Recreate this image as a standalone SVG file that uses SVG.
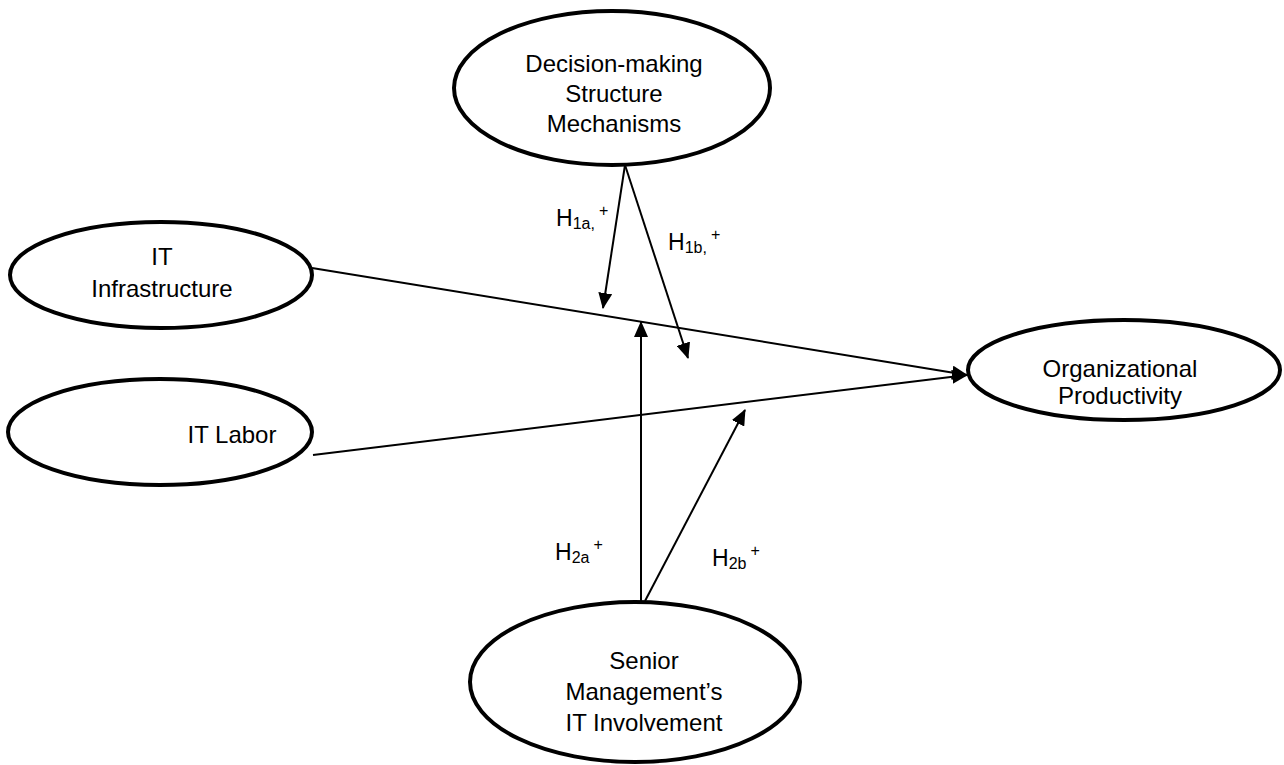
<svg xmlns="http://www.w3.org/2000/svg" width="1284" height="765" viewBox="0 0 1284 765">
<defs>
<style>
.node ellipse{fill:#fff;stroke:#000;stroke-width:4}
text{font-family:"Liberation Sans",Arial,sans-serif;font-size:24px;fill:#000}
.c{text-anchor:middle}
.conn line{stroke:#000;stroke-width:2}
.lbl{font-size:23px}
.s{font-size:16px}
</style>
<marker id="ah" markerWidth="16" markerHeight="14" refX="15" refY="7" orient="auto" markerUnits="userSpaceOnUse">
<path d="M0,0 L16,7 L0,14 z" fill="#000"/>
</marker>
</defs>
<rect width="1284" height="765" fill="#fff"/>
<g class="conn" id="connectors">
<line x1="312" y1="268" x2="967" y2="375" marker-end="url(#ah)"/>
<line x1="313" y1="455" x2="967" y2="375" marker-end="url(#ah)"/>
<line x1="625" y1="165" x2="603" y2="308" marker-end="url(#ah)"/>
<line x1="625" y1="165" x2="688" y2="358" marker-end="url(#ah)"/>
<line x1="641" y1="601" x2="641" y2="322" marker-end="url(#ah)"/>
<line x1="645" y1="601" x2="745" y2="410" marker-end="url(#ah)"/>
</g>
<g class="node" id="dsm">
<ellipse cx="612" cy="88" rx="158" ry="77"/>
<text class="c" x="614" y="72">Decision-making</text>
<text class="c" x="614" y="102">Structure</text>
<text class="c" x="614" y="132">Mechanisms</text>
</g>
<g class="node" id="iti">
<ellipse cx="161" cy="275" rx="151" ry="53"/>
<text class="c" x="162" y="265">IT</text>
<text class="c" x="162" y="297">Infrastructure</text>
</g>
<g class="node" id="itl">
<ellipse cx="160" cy="432" rx="152" ry="53"/>
<text class="c" x="232" y="443">IT Labor</text>
</g>
<g class="node" id="op">
<ellipse cx="1124" cy="370" rx="156" ry="50"/>
<text class="c" x="1120" y="377">Organizational</text>
<text class="c" x="1120" y="404">Productivity</text>
</g>
<g class="node" id="smi">
<ellipse cx="635" cy="682" rx="165" ry="80"/>
<text class="c" x="644" y="669">Senior</text>
<text class="c" x="644" y="700">Management’s</text>
<text class="c" x="644" y="731">IT Involvement</text>
</g>
<g id="labels">
<text class="lbl" x="556" y="226">H<tspan class="s" dy="3">1a,</tspan><tspan class="s" dx="4" dy="-13">+</tspan></text>
<text class="lbl" x="668" y="250">H<tspan class="s" dy="3">1b,</tspan><tspan class="s" dx="4" dy="-13">+</tspan></text>
<text class="lbl" x="555" y="560">H<tspan class="s" dy="3">2a</tspan><tspan class="s" dx="4" dy="-13">+</tspan></text>
<text class="lbl" x="712" y="566">H<tspan class="s" dy="3">2b</tspan><tspan class="s" dx="4" dy="-13">+</tspan></text>
</g>
</svg>
